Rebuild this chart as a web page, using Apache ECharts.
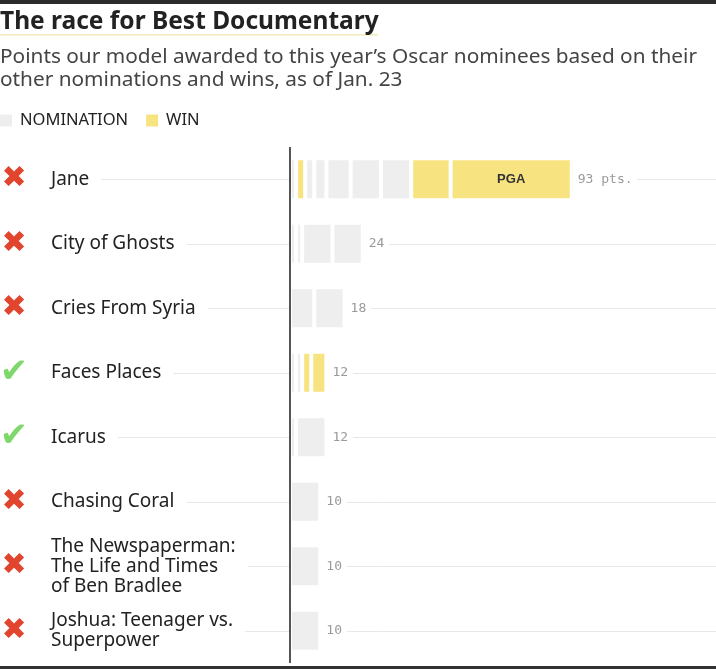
<!DOCTYPE html>
<html>
<head>
<meta charset="utf-8">
<script src="https://cdn.jsdelivr.net/npm/echarts@6/dist/echarts.min.js"></script>
<style>
  html, body { margin: 0; padding: 0; background: #fff; }
  #chart { width: 716px; height: 662px; border-top: 4px solid #2b2b2b; border-bottom: 3px solid #333; }
</style>
</head>
<body>
<div id="chart"></div>
<script>
// films, top to bottom
const films = [
  'Jane',
  'City of Ghosts',
  'Cries From Syria',
  'Faces Places',
  'Icarus',
  'Chasing Coral',
  'The Newspaperman:\nThe Life and Times\nof Ben Bradlee',
  'Joshua: Teenager vs.\nSuperpower'
];
// check = nominated for the Oscar, cross = not
const oscarNominee = [false, false, false, true, true, false, false, false];

// points per award, in the order they stack from the axis
const segmentPoints = [
  [2, 3, 3, 4, 8, 10, 10, 13, 40],
  [2, 2, 10, 10],
  [8, 10],
  [2, 2, 3, 5],
  [2, 10],
  [10],
  [10],
  [10]
];
// 1 = win, 0 = nomination
const segmentIsWin = [
  [0, 1, 0, 0, 0, 0, 0, 1, 1],
  [0, 0, 0, 0],
  [0, 0],
  [0, 0, 1, 1],
  [0, 0],
  [0],
  [0],
  [0]
];
// text written inside a segment
const segmentNotes = [
  ['', '', '', '', '', '', '', '', 'PGA'],
  [], [], [], [], [], [], []
];

const NOM_COLOR = '#eeeeee';
const WIN_COLOR = '#f8e381';
const X_MIN = -78.9;
const X_MAX = 140.6;

const totals = segmentPoints.map(s => s.reduce((a, b) => a + b, 0));
const maxSegs = Math.max(...segmentPoints.map(s => s.length));

const noteLabel = { show: true, position: 'inside', fontFamily: 'Liberation Sans', fontSize: 13, fontWeight: 'bold', color: '#333' };

const series = [];
for (let i = 0; i < maxSegs; i++) {
  const s = {
    type: 'bar',
    stack: 'pts',
    barWidth: 42,
    z: 2,
    silent: true,
    itemStyle: { borderColor: '#fff', borderWidth: 2 },
    label: { show: false },
    data: films.map((f, j) => {
      if (i >= segmentPoints[j].length) return '-';
      const item = {
        value: segmentPoints[j][i],
        itemStyle: { color: segmentIsWin[j][i] ? WIN_COLOR : NOM_COLOR }
      };
      const note = segmentNotes[j][i];
      if (note) item.label = Object.assign({}, noteLabel, { formatter: note });
      return item;
    })
  };
  if (i === 0) {
    // the zero line
    s.markLine = {
      silent: true, symbol: 'none', z: 4, animation: false,
      label: { show: false },
      lineStyle: { color: '#555', width: 2, type: 'solid' },
      data: [{ xAxis: 0 }]
    };
  }
  series.push(s);
}

// total at the end of each stack, plus the thin row guides
series.push({
  type: 'bar',
  stack: 'pts',
  barWidth: 42,
  z: 3,
  silent: true,
  itemStyle: { color: 'rgba(0,0,0,0)', borderWidth: 0 },
  label: {
    show: true,
    position: 'right',
    distance: 0,
    formatter: p => totals[p.dataIndex] + (p.dataIndex === 0 ? ' pts.' : ''),
    fontFamily: 'DejaVu Sans Mono',
    fontSize: 13,
    color: '#9a9a9a',
    backgroundColor: '#fff',
    padding: [3, 5, 3, 6]
  },
  data: totals.map(() => 0),
  markLine: {
    silent: true, symbol: 'none', z: 1, animation: false,
    label: { show: false },
    lineStyle: { color: '#e8e8e8', width: 1, type: 'solid' },
    data: films.map(f => ({ yAxis: f }))
  }
});

// legend entries only
series.push({ name: 'NOMINATION', type: 'line', data: [], itemStyle: { color: NOM_COLOR }, lineStyle: { color: NOM_COLOR } });
series.push({ name: 'WIN', type: 'line', data: [], itemStyle: { color: WIN_COLOR }, lineStyle: { color: WIN_COLOR } });

const chart = echarts.init(document.getElementById('chart'));
chart.setOption({
  animation: false,
  title: [
    {
      text: 'The race for Best Documentary',
      left: 0, top: 6, padding: 0,
      textStyle: { fontFamily: 'Noto Sans', fontSize: 24.5, fontWeight: 'bold', color: '#222' }
    },
    {
      text: 'Points our model awarded to this year\u2019s Oscar nominees based on their\nother nominations and wins, as of Jan. 23',
      left: 0, top: 42, padding: 0,
      textStyle: { fontFamily: 'Noto Sans', fontSize: 20.8, fontWeight: 'normal', color: '#444', lineHeight: 23 }
    }
  ],
  graphic: [
    { type: 'rect', left: 0, top: 30, silent: true, shape: { width: 378, height: 1.5 }, style: { fill: '#f3ebbb' } }
  ],
  legend: {
    left: 0, top: 108, padding: 0,
    itemWidth: 12, itemHeight: 12, itemGap: 18,
    icon: 'rect', selectedMode: false,
    textStyle: { fontFamily: 'Noto Sans', fontSize: 16.5, color: '#222', padding: [0, 0, 0, 3] },
    data: ['NOMINATION', 'WIN']
  },
  grid: { left: 51, right: 0, top: 143, height: 516, outerBoundsMode: 'none', containLabel: false },
  xAxis: { type: 'value', min: X_MIN, max: X_MAX, show: false },
  yAxis: [
    {
      type: 'category', data: films, inverse: true, position: 'left', z: 6,
      axisLine: { show: false }, axisTick: { show: false }, splitLine: { show: false },
      axisLabel: {
        interval: 0, inside: true, margin: 0, align: 'left',
        fontFamily: 'Noto Sans', fontSize: 19, lineHeight: 20, color: '#222',
        backgroundColor: '#fff', padding: [0, 12, 0, 0]
      }
    },
    {
      type: 'category', data: films, inverse: true, position: 'left', z: 6,
      axisLine: { show: false }, axisTick: { show: false }, splitLine: { show: false },
      axisLabel: {
        interval: 0, margin: 37, align: 'center',
        formatter: (v, i) => oscarNominee[i] ? '{yes|\u2714}' : '{no|\u2716}',
        rich: {
          yes: { color: '#7fd86b', fontSize: 34, fontFamily: 'DejaVu Sans' },
          no: { color: '#e2452e', fontSize: 30, fontFamily: 'DejaVu Sans' }
        }
      }
    }
  ],
  series: series
});
</script>
</body>
</html>
